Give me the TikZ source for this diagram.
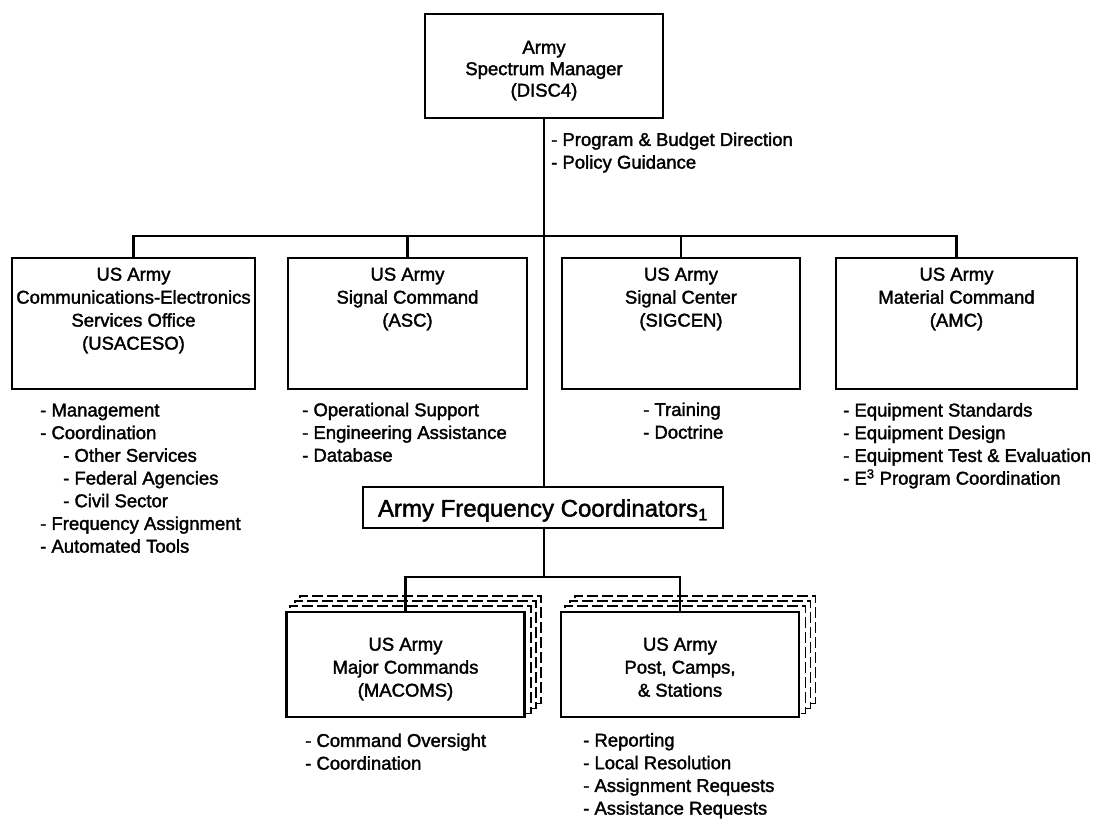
\documentclass[tikz,border=0pt]{standalone}
\usepackage{fontspec}
\setmainfont{Liberation Sans}[FakeBold=1.8]
\usepackage{tikz}
\usetikzlibrary{backgrounds}

\begin{document}
\begin{tikzpicture}[
    x=1pt, y=-1pt,
    unit/.style={rectangle, draw, line width=2.8pt, fill=white, align=center, inner sep=0pt, font=\fontsize{18.5}{23}\selectfont},
    toprow/.style={text depth=39.4pt},
    lowrow/.style={minimum width=238pt, text height=84.6pt, text depth=20.4pt},
    duties/.style={anchor=base west, align=left, inner sep=0pt, font=\fontsize{18.5}{22.7}\selectfont},
    stackcopy/.style={draw, fill=white, line width=1.8pt, dash pattern=on 11pt off 4pt},
    link/.style={line width=2.8pt}
]
\useasboundingbox (0,0) rectangle (1108,820);
\node[unit, minimum width=238pt, text height=82.6pt, text depth=21.4pt, font=\fontsize{18.5}{21.5}\selectfont] (spec) at (544,66) {Army\\Spectrum Manager\\(DISC4)};
\node[unit, toprow, text height=91.6pt, minimum width=243pt] (usaceso) at (133.5,323.5) {US Army\\Communications-Electronics\\Services Office\\(USACESO)};
\node[unit, toprow, text height=68.6pt, text depth=62.4pt, minimum width=239pt] (asc) at (407.5,323.5) {US Army\\Signal Command\\(ASC)};
\node[unit, toprow, text height=68.6pt, text depth=62.4pt, minimum width=238pt] (sigcen) at (681,323.5) {US Army\\Signal Center\\(SIGCEN)};
\node[unit, toprow, text height=68.6pt, text depth=62.4pt, minimum width=241pt] (amc) at (956.5,323.5) {US Army\\Material Command\\(AMC)};
\node[unit, minimum width=360pt, text height=29.6pt, text depth=11.4pt, font=\fontsize{24}{28}\selectfont] (afc) at (543,507.5) {Army Frequency Coordinators\textsubscript{1}};
\node[unit, lowrow] (macoms) at (405.5,664.5) {US Army\\Major Commands\\(MACOMS)};
\node[unit, lowrow] (posts) at (680,664.5) {US Army\\Post, Camps,\\\& Stations};

% duty lists
\node[duties] (specduties) at (551,168.6) {- Program \& Budget Direction\\- Policy Guidance};
\node[duties] (usacesoduties) at (40,552.6) {- Management\\- Coordination\\\hspace*{23pt}- Other Services\\\hspace*{23pt}- Federal Agencies\\\hspace*{23pt}- Civil Sector\\- Frequency Assignment\\- Automated Tools};
\node[duties] (ascduties) at (302,461.6) {- Operational Support\\- Engineering Assistance\\- Database};
\node[duties] (sigcenduties) at (643,438.6) {- Training\\- Doctrine};
\node[duties] (amcduties) at (843,484.6) {- Equipment Standards\\- Equipment Design\\- Equipment Test \& Evaluation\\- E\textsuperscript{3} Program Coordination};
\node[duties] (macomsduties) at (305,769.6) {- Command Oversight\\- Coordination};
\node[duties] (postsduties) at (583,814.6) {- Reporting\\- Local Resolution\\- Assignment Requests\\- Assistance Requests};

% stacked copies behind the lower boxes
\begin{scope}[on background layer]
\foreach \d in {15,10,5} {
    \draw[stackcopy] ([shift={(\d,-\d)}]macoms.south west) rectangle ([shift={(\d,-\d)}]macoms.north east);
    \draw[stackcopy] ([shift={(\d,-\d)}]posts.south west) rectangle ([shift={(\d,-\d)}]posts.north east);
}
\end{scope}

\coordinate (bus) at (544,236);
\coordinate (fork) at (544,577);
\draw[link] (spec.south) -- (spec.south |- afc.north);
\draw[link] (usaceso.north) |- (bus) -| (amc.north);
\draw[link] (asc.north) -- (asc.north |- bus);
\draw[link] (sigcen.north) -- (sigcen.north |- bus);
\draw[link] (spec.south |- afc.south) -- (fork);
\draw[link] (macoms.north) |- (fork) -| (posts.north);

\end{tikzpicture}
\end{document}
